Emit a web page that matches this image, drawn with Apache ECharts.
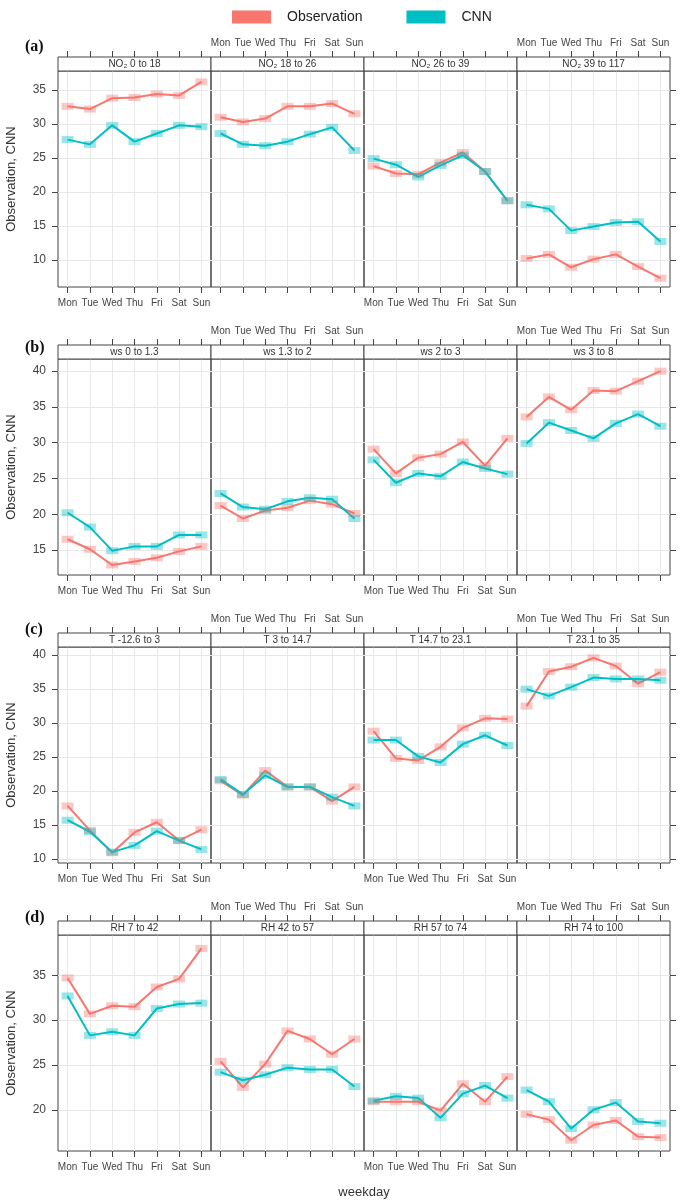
<!DOCTYPE html>
<html>
<head>
<meta charset="utf-8">
<script src="https://cdn.jsdelivr.net/npm/echarts@6/dist/echarts.min.js"></script>
<style>
  html, body { margin: 0; padding: 0; background: #fff; }
  #chart { width: 685px; height: 1204px; }
</style>
</head>
<body>
<div id="chart"></div>
<script>
const days = ["Mon", "Tue", "Wed", "Thu", "Fri", "Sat", "Sun"];

// (a) NO2 bins
const stripsNO2 = ["NO₂ 0 to 18", "NO₂ 18 to 26", "NO₂ 26 to 39", "NO₂ 39 to 117"];
const obsNO2 = [
  [32.6, 32.2, 33.8, 33.9, 34.4, 34.2, 36.2],
  [31.0, 30.3, 30.8, 32.6, 32.6, 33.0, 31.5],
  [23.8, 22.7, 22.6, 24.3, 25.8, 23.0, 18.7],
  [10.2, 10.8, 8.9, 10.1, 10.8, 9.0, 7.3],
];
const cnnNO2 = [
  [27.7, 27.0, 29.8, 27.4, 28.6, 29.8, 29.6],
  [28.6, 27.0, 26.8, 27.4, 28.5, 29.5, 26.1],
  [24.9, 24.0, 22.2, 23.9, 25.4, 23.0, 18.7],
  [18.1, 17.5, 14.3, 14.9, 15.5, 15.6, 12.7],
];

// (b) wind speed bins
const stripsWS = ["ws 0 to 1.3", "ws 1.3 to 2", "ws 2 to 3", "ws 3 to 8"];
const obsWS = [
  [16.5, 15.1, 12.9, 13.4, 13.9, 14.8, 15.5],
  [21.2, 19.4, 20.5, 20.9, 21.9, 21.4, 20.1],
  [29.1, 25.7, 27.9, 28.4, 30.1, 26.8, 30.6],
  [33.6, 36.4, 34.6, 37.3, 37.2, 38.6, 40.0],
];
const cnnWS = [
  [20.2, 18.2, 14.9, 15.5, 15.5, 17.1, 17.1],
  [22.9, 21.0, 20.7, 21.8, 22.3, 22.1, 19.4],
  [27.6, 24.4, 25.7, 25.3, 27.3, 26.4, 25.6],
  [29.9, 32.8, 31.7, 30.6, 32.7, 34.0, 32.3],
];

// (c) temperature bins
const stripsT = ["T -12.6 to 3", "T 3 to 14.7", "T 14.7 to 23.1", "T 23.1 to 35"];
const obsT = [
  [17.8, 14.2, 10.9, 13.9, 15.4, 12.7, 14.3],
  [21.5, 19.4, 23.0, 20.6, 20.6, 18.5, 20.6],
  [28.8, 24.8, 24.5, 26.5, 29.3, 30.7, 30.6],
  [32.5, 37.6, 38.3, 39.6, 38.4, 35.8, 37.5],
];
const cnnT = [
  [15.7, 14.0, 11.0, 12.0, 14.1, 12.7, 11.4],
  [21.7, 19.5, 22.3, 20.6, 20.6, 19.1, 17.8],
  [27.5, 27.5, 25.1, 24.2, 26.9, 28.2, 26.7],
  [35.0, 34.0, 35.3, 36.7, 36.5, 36.5, 36.3],
];

// (d) relative humidity bins
const stripsRH = ["RH 7 to 42", "RH 42 to 57", "RH 57 to 74", "RH 74 to 100"];
const obsRH = [
  [34.7, 30.7, 31.6, 31.5, 33.7, 34.6, 38.0],
  [25.4, 22.5, 25.1, 28.8, 27.9, 26.2, 27.9],
  [20.9, 20.9, 20.9, 19.9, 22.9, 20.9, 23.7],
  [19.5, 18.9, 16.6, 18.3, 18.8, 17.0, 16.9],
];
const cnnRH = [
  [32.7, 28.3, 28.7, 28.3, 31.3, 31.8, 31.9],
  [24.2, 23.3, 23.9, 24.7, 24.5, 24.5, 22.6],
  [21.0, 21.5, 21.3, 19.1, 21.8, 22.7, 21.3],
  [22.2, 20.9, 17.9, 20.0, 20.8, 18.7, 18.5],
];

const yTicksA = [10, 15, 20, 25, 30, 35];
const yTicksB = [15, 20, 25, 30, 35, 40];
const yTicksC = [10, 15, 20, 25, 30, 35, 40];
const yTicksD = [20, 25, 30, 35];

const rows = [
  { tag: "(a)", strips: stripsNO2, obs: obsNO2, cnn: cnnNO2, yMin: 6.0, yMax: 37.8, yTicks: yTicksA, tagY: 47 },
  { tag: "(b)", strips: stripsWS, obs: obsWS, cnn: cnnWS, yMin: 11.5, yMax: 41.7, yTicks: yTicksB, tagY: 348 },
  { tag: "(c)", strips: stripsT, obs: obsT, cnn: cnnT, yMin: 9.4, yMax: 41.2, yTicks: yTicksC, tagY: 630 },
  { tag: "(d)", strips: stripsRH, obs: obsRH, cnn: cnnRH, yMin: 15.4, yMax: 39.5, yTicks: yTicksD, tagY: 918 },
];

// layout
const rowTops = [57, 345, 633, 921];
const colLefts = [58, 211, 364, 517];
const panelW = 153;
const stripH = 14;
const plotH = 216;

const RED = "#F8766D";
const TEAL = "#00BFC4";
const FRAME = "#444";
const GRID = "#e8e8e8";
const FONT = "Liberation Sans, Arial, sans-serif";
const dayIdx = days.map((d, i) => i);

const grids = [];
const xAxes = [];
const yAxes = [];
const series = [];
const graphics = [];

rows.forEach((row, r) => {
  for (let c = 0; c < 4; c++) {
    const gi = grids.length;
    grids.push({
      left: colLefts[c],
      top: rowTops[r] + stripH,
      width: panelW,
      height: plotH,
      show: true,
      borderColor: FRAME,
      borderWidth: 1,
    });

    const xBase = {
      gridIndex: gi,
      type: "value",
      min: -0.43,
      max: 6.43,
      axisLine: { show: false, onZero: false },
      axisTick: { show: true, length: 6, customValues: dayIdx, lineStyle: { color: FRAME } },
    };
    const xBottom = xAxes.length;
    xAxes.push({
      ...xBase,
      position: "bottom",
      axisLabel: {
        show: c % 2 === 0,
        customValues: dayIdx,
        formatter: (v) => days[Math.round(v)],
        fontSize: 10,
        fontFamily: FONT,
        color: "#444",
        margin: 11,
      },
      splitLine: { show: true, lineStyle: { color: GRID, width: 1 } },
    });
    xAxes.push({
      ...xBase,
      position: "top",
      offset: stripH,
      axisLabel: {
        show: c % 2 === 1,
        customValues: dayIdx,
        formatter: (v) => days[Math.round(v)],
        fontSize: 10,
        fontFamily: FONT,
        color: "#444",
        margin: 9,
      },
      splitLine: { show: false },
    });

    const yLeft = yAxes.length;
    yAxes.push({
      gridIndex: gi,
      type: "value",
      min: row.yMin,
      max: row.yMax,
      position: "left",
      name: c === 0 ? "Observation, CNN" : "",
      nameLocation: "middle",
      nameGap: 40,
      nameTextStyle: { fontSize: 13, fontFamily: FONT, color: "#333" },
      axisLine: { show: false, onZero: false },
      axisTick: { show: c === 0, length: 6, customValues: row.yTicks, lineStyle: { color: FRAME } },
      axisLabel: {
        show: c === 0,
        customValues: row.yTicks,
        fontSize: 12,
        fontFamily: FONT,
        color: "#444",
        margin: 12,
      },
      splitLine: { show: true, lineStyle: { color: GRID, width: 1 } },
    });
    if (c === 3) {
      yAxes.push({
        gridIndex: gi,
        type: "value",
        min: row.yMin,
        max: row.yMax,
        position: "right",
        axisLine: { show: false, onZero: false },
        axisTick: { show: true, length: 6, customValues: row.yTicks, lineStyle: { color: FRAME } },
        axisLabel: { show: false },
        splitLine: { show: false },
      });
    }

    [
      ["Observation", row.obs[c], RED],
      ["CNN", row.cnn[c], TEAL],
    ].forEach(([name, vals, color]) => {
      series.push({
        name: name,
        type: "line",
        xAxisIndex: xBottom,
        yAxisIndex: yLeft,
        data: vals.map((v, k) => [k, v]),
        symbol: "rect",
        symbolSize: [12, 7],
        showSymbol: true,
        color: color,
        lineStyle: { color: color, width: 2 },
        itemStyle: { color: color, opacity: 0.4 },
        emphasis: { disabled: true },
        silent: true,
      });
    });

    // strip above each panel
    graphics.push({
      type: "rect",
      shape: { x: colLefts[c], y: rowTops[r], width: panelW, height: stripH },
      style: { fill: "#fff", stroke: FRAME, lineWidth: 1 },
      z: 10,
    });
    graphics.push({
      type: "text",
      x: colLefts[c] + panelW / 2,
      y: rowTops[r] + stripH / 2 + 0.5,
      style: {
        text: row.strips[c],
        fill: "#333",
        font: "10px " + FONT,
        align: "center",
        verticalAlign: "middle",
      },
      z: 11,
    });
  }

  // panel tag
  graphics.push({
    type: "text",
    x: 25,
    y: row.tagY,
    style: {
      text: row.tag,
      fill: "#111",
      font: "bold 16px Liberation Serif, Times New Roman, serif",
      align: "left",
      verticalAlign: "middle",
    },
    z: 11,
  });
});

graphics.push({
  type: "text",
  x: 364,
  y: 1192,
  style: {
    text: "weekday",
    fill: "#333",
    font: "13px " + FONT,
    align: "center",
    verticalAlign: "middle",
  },
});

const chart = echarts.init(document.getElementById("chart"), null, { renderer: "canvas" });
chart.setOption({
  animation: false,
  backgroundColor: "#fff",
  legend: {
    left: 227,
    top: 5,
    itemWidth: 39,
    itemHeight: 13,
    itemGap: 44,
    icon: "rect",
    data: [
      { name: "Observation", itemStyle: { color: RED, opacity: 1 } },
      { name: "CNN", itemStyle: { color: TEAL, opacity: 1 } },
    ],
    textStyle: { fontSize: 14, fontFamily: FONT, color: "#222", padding: [0, 0, 0, 11] },
    selectedMode: false,
  },
  grid: grids,
  xAxis: xAxes,
  yAxis: yAxes,
  series: series,
  graphic: graphics,
});
</script>
</body>
</html>
